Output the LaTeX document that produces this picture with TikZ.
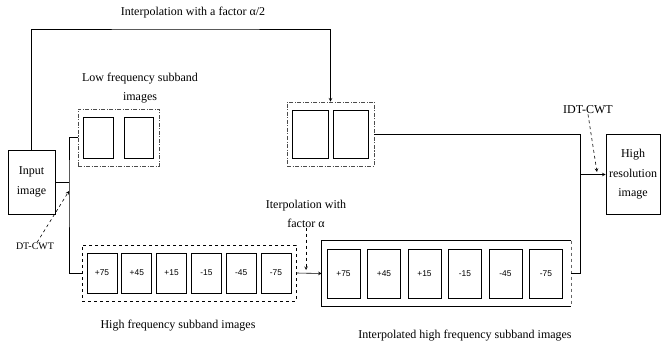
\documentclass[tikz,border=0pt]{standalone}
\usepackage{fontspec}
\setmainfont{Liberation Serif}
\newfontfamily\numfont{Liberation Sans}
\tikzset{io/.style  = {rectangle, draw, line width=0.8pt, align=center, inner sep=0pt, font=\fontsize{12}{19.5}\selectfont},
         sb/.style  = {rectangle, draw, line width=0.8pt, inner sep=0pt, font=\numfont\fontsize{8.4}{10}\selectfont},
         dd/.style  = {rectangle, draw=black!70, line width=0.8pt, dash pattern=on 4pt off 1.5pt on 1pt off 1.5pt, inner sep=0pt},
         lb/.style  = {align=center, inner sep=0pt, font=\fontsize{12}{19}\selectfont}}

\begin{document}
\begin{tikzpicture}[x=1pt, y=-1pt, >=stealth, line width=0.6pt]
    \useasboundingbox (0,0) rectangle (661,342);
    % end blocks
    \node[io, minimum width=47pt, minimum height=64pt] (in) at (31.5,182) {Input\\image};
    \node[io, minimum width=54pt, minimum height=80pt] (hr) at (633,174.5) {High\\resolution\\image};
    % low frequency subbands
    \node[dd, minimum width=81pt, minimum height=57pt] (lf) at (118.5,137.5) {};
    \node[sb, minimum width=30pt, minimum height=41pt] (lf1) at (98,137.5) {}; \node[sb, minimum width=29pt, minimum height=41pt] (lf2) at (138.5,137.5) {};
    \node[dd, minimum width=87pt, minimum height=64pt] (li) at (330.5,134) {};
    \node[sb, minimum width=36pt, minimum height=48pt] (li1) at (310,134) {}; \node[sb, minimum width=35pt, minimum height=48pt] (li2) at (350.5,134) {};
    % high frequency subbands
    \node[rectangle, draw, dashed, line width=0.8pt, minimum width=214pt, minimum height=56pt, inner sep=0pt] (hf) at (189,273) {};
    \node[sb, minimum width=30pt, minimum height=40pt] (hf1) at (102,273) {+75}; \node[sb, minimum width=30pt, minimum height=40pt] (hf2) at (136.8,273) {+45}; \node[sb, minimum width=30pt, minimum height=40pt] (hf3) at (171.6,273) {+15};
    \node[sb, minimum width=30pt, minimum height=40pt] (hf4) at (206.4,273) {-15}; \node[sb, minimum width=30pt, minimum height=40pt] (hf5) at (241.2,273) {-45}; \node[sb, minimum width=30pt, minimum height=40pt] (hf6) at (276,273) {-75};
    \node[rectangle, minimum width=249pt, minimum height=65pt, inner sep=0pt] (ih) at (446.5,273.5) {};
    \draw[line width=0.8pt] (ih.north east) -- (ih.north west) -- (ih.south west) -- (ih.south east);
    \draw[line width=0.8pt, dashed, black!60] (ih.north east) -- (ih.south east);
    \node[sb, minimum width=33pt, minimum height=49pt] (ih1) at (343.5,273.5) {+75}; \node[sb, minimum width=33pt, minimum height=49pt] (ih2) at (384,273.5) {+45}; \node[sb, minimum width=33pt, minimum height=49pt] (ih3) at (424.5,273.5) {+15};
    \node[sb, minimum width=33pt, minimum height=49pt] (ih4) at (465,273.5) {-15}; \node[sb, minimum width=33pt, minimum height=49pt] (ih5) at (505.5,273.5) {-45}; \node[sb, minimum width=33pt, minimum height=49pt] (ih6) at (546,273.5) {-75};
    % labels
    \node[lb] (ltop) at (193,13) {Interpolation with a factor α/2};
    \node[lb] (llf) at (140,88) {Low frequency subband\\images};
    \node[lb] (lhf) at (178,326) {High frequency subband images};
    \node[lb] (lih) at (465,336) {Interpolated high frequency subband images};
    \node[lb] (lip) at (306,213.5) {Iterpolation with\\factor α};
    \node[lb] (idt) at (588,110) {IDT-CWT};
    \node[lb, font=\fontsize{10}{12}\selectfont] (dt) at (35,246) {DT-CWT};
    % connectors
    \coordinate (tp) at (190,29); \coordinate (br) at (69,182); \coordinate (jn) at (580,174.5);
    \coordinate (dta) at (69,191); \coordinate (ipa) at (306,270); \coordinate (ida) at (597,172);
    \draw[->] (in.north) |- (tp) -| (li.north);
    \draw (in.east) -- (br);
    \draw (lf.west) -| (br) |- (hf.west);
    \draw[->] (hf.east) -- (ih.west);
    \draw (li.east) -| (jn);
    \draw[->] (ih.east) -| (jn) -- (hr.west);
    \draw[->, dashed] (dt.60) -- (dta);
    \draw[->, dashed] (lip.south) -- (ipa);
    \draw[->, dashed] (idt.south) -- (ida);
\end{tikzpicture}
\end{document}
